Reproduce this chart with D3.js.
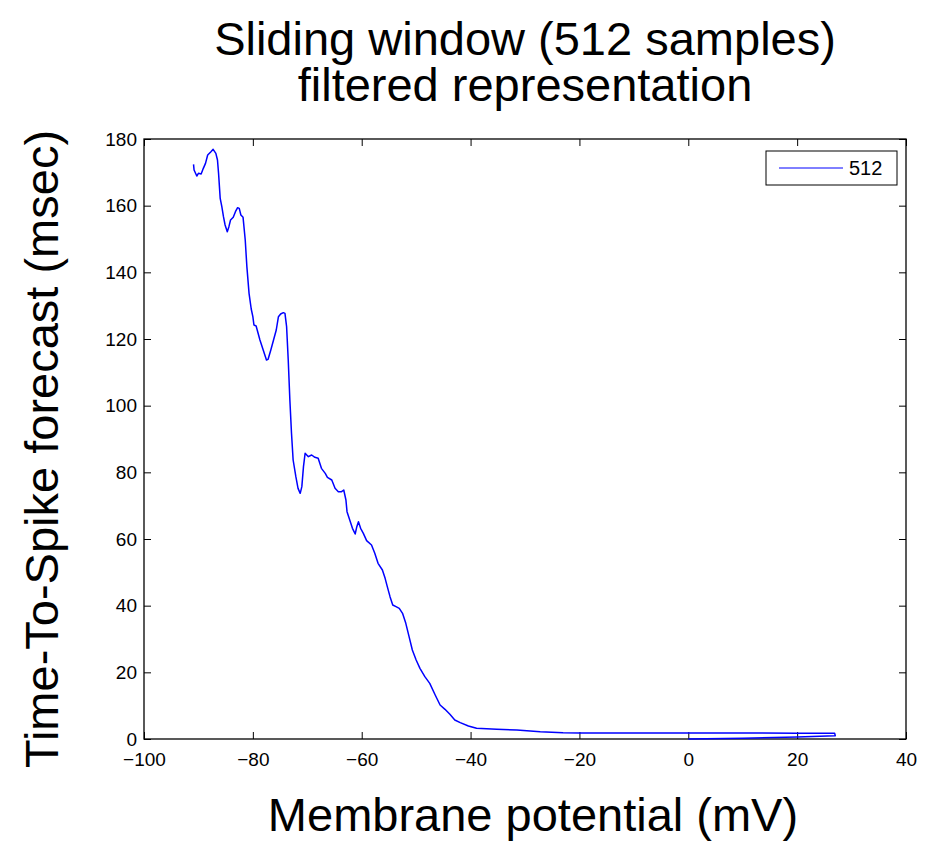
<!DOCTYPE html>
<html>
<head>
<meta charset="utf-8">
<script src="https://cdn.jsdelivr.net/npm/d3@7"></script>
<style>
  html, body { margin: 0; padding: 0; background: #fff; }
  svg { display: block; }
  text { font-family: "Liberation Sans", Arial, Helvetica, sans-serif; fill: #000; }
</style>
</head>
<body>
<svg id="chart" width="935" height="842"></svg>
<script>
// Membrane potential (mV) along the trace
const membranePotential = [
  -90.9, -90.8, -90.3, -90.0, -89.5, -89.1, -88.7, -88.3, -87.7, -87.3,
  -86.8, -86.5, -86.3, -86.0, -85.7, -85.4, -85.1, -84.7, -84.4, -84.1,
  -83.6, -83.2, -82.8, -82.5, -82.2, -81.8, -81.4, -81.1, -80.7, -80.3,
  -80.0, -79.8, -79.4, -79.2, -78.7, -78.1, -77.5, -77.2, -76.7, -76.2,
  -75.7, -75.3, -74.9, -74.4, -74.1, -73.8, -73.5, -73.2, -72.9, -72.6,
  -72.1, -71.7, -71.3, -71.0, -70.7, -70.4, -70.1, -69.8, -69.2, -68.6,
  -68.0, -67.4, -66.7, -66.3, -65.5, -64.9, -64.3, -63.7, -63.3, -62.9,
  -62.7, -62.2, -61.7, -61.2, -60.9, -60.6, -60.2, -59.7, -59.1, -58.2,
  -57.6, -57.0, -56.2, -55.7, -55.3, -54.8, -54.3, -53.7, -53.1, -52.5,
  -51.9, -51.3, -50.7, -50.0, -49.3, -48.4, -47.5, -46.5, -45.6, -44.7,
  -43.8, -42.9, -41.9, -40.4, -38.9, -35.2, -31.5, -27.2, -23.0, -19.9,
  0.0, 20.0, 26.9, 27.0, 20.0, 10.0, 0.0
];

// Time-to-spike forecast (msec) for each point above
const timeToSpike = [
  172.4, 170.7, 168.9, 169.7, 169.5, 171.2, 172.7, 175.2, 176.2, 176.9,
  175.7, 173.7, 169.7, 162.2, 159.7, 156.7, 154.2, 152.2, 153.7, 155.7,
  156.5, 158.2, 159.4, 159.2, 157.2, 156.5, 149.7, 141.7, 133.7, 129.0,
  126.7, 124.2, 123.9, 122.7, 119.7, 116.7, 113.7, 113.9, 116.7, 119.7,
  122.7, 126.7, 127.5, 127.9, 127.7, 123.7, 113.7, 101.7, 91.7, 83.7,
  78.7, 75.2, 73.7, 75.7, 81.7, 85.7, 85.2, 84.7, 85.2, 84.5,
  84.2, 81.2, 79.7, 78.5, 77.7, 75.2, 74.2, 74.2, 74.7, 71.7,
  68.2, 65.7, 63.2, 61.5, 63.7, 65.2, 63.2, 61.7, 59.5, 58.2,
  55.7, 52.7, 50.7, 48.2, 45.7, 42.7, 40.2, 39.7, 39.2, 37.7,
  34.7, 30.7, 26.7, 23.7, 21.2, 18.7, 16.7, 13.2, 10.2, 8.9,
  7.4, 5.7, 4.9, 3.9, 3.2, 2.9, 2.7, 2.2, 1.9, 1.8,
  1.8, 1.75, 1.7, 1.0, 0.6, 0.25, 0.0
];

const xTicks = [-100, -80, -60, -40, -20, 0, 20, 40];
const yTicks = [0, 20, 40, 60, 80, 100, 120, 140, 160, 180];
const titleLines = ["Sliding window (512 samples)", "filtered representation"];
const xLabel = "Membrane potential (mV)";
const yLabel = "Time-To-Spike forecast (msec)";
const seriesName = "512";

const svg = d3.select("#chart");
const margin = { left: 144, top: 139, right: 935 - 906, bottom: 842 - 739 };
const W = 935 - margin.left - margin.right;
const H = 842 - margin.top - margin.bottom;

const x = d3.scaleLinear().domain([-100, 40]).range([0, W]);
const y = d3.scaleLinear().domain([0, 180]).range([H, 0]);

const g = svg.append("g").attr("transform", `translate(${margin.left},${margin.top})`);

const fmt = d => d < 0 ? "\u2212" + Math.abs(d) : String(d);
const tickLen = 7;
const tickFont = "19px";

// bottom and left axes with inward ticks
const xAxis = g.append("g").attr("transform", `translate(0,${H})`)
  .call(d3.axisBottom(x).tickValues(xTicks).tickFormat(fmt).tickSizeInner(-tickLen).tickSizeOuter(0).tickPadding(14));
const yAxis = g.append("g")
  .call(d3.axisLeft(y).tickValues(yTicks).tickFormat(fmt).tickSizeInner(-tickLen).tickSizeOuter(0).tickPadding(7));
// top and right mirror axes
const xTop = g.append("g")
  .call(d3.axisTop(x).tickValues(xTicks).tickFormat("").tickSizeInner(-tickLen).tickSizeOuter(0));
const yRight = g.append("g").attr("transform", `translate(${W},0)`)
  .call(d3.axisRight(y).tickValues(yTicks).tickFormat("").tickSizeInner(-tickLen).tickSizeOuter(0));

[xAxis, yAxis, xTop, yRight].forEach(a => {
  a.select(".domain").remove();
  a.selectAll(".tick line").attr("stroke", "#000").attr("stroke-width", 1);
  a.selectAll("text").style("font-size", tickFont).style("font-family", '"Liberation Sans", Arial, sans-serif').attr("fill", "#000");
});

// frame
g.append("rect").attr("x", 0).attr("y", 0).attr("width", W).attr("height", H)
  .attr("fill", "none").attr("stroke", "#000").attr("stroke-width", 1.3);

// trace
const pts = membranePotential.map((v, i) => [v, timeToSpike[i]]);
const line = d3.line().x(d => x(d[0])).y(d => y(d[1]));
g.append("path").datum(pts).attr("d", line)
  .attr("fill", "none").attr("stroke", "#0000ff").attr("stroke-width", 1.5)
  .attr("stroke-linejoin", "round");

// legend
const lg = svg.append("g").attr("transform", "translate(766,151)");
lg.append("rect").attr("width", 131).attr("height", 34)
  .attr("fill", "#fff").attr("stroke", "#000").attr("stroke-width", 1);
lg.append("line").attr("x1", 13).attr("x2", 77).attr("y1", 17).attr("y2", 17)
  .attr("stroke", "#0000ff").attr("stroke-width", 1);
lg.append("text").attr("x", 83).attr("y", 24).style("font-size", "20px").text(seriesName);

// two-line title
const cx = margin.left + W / 2;
const title = svg.append("text").attr("text-anchor", "middle").style("font-size", "47px");
title.append("tspan").attr("x", cx).attr("y", 55).text(titleLines[0]);
title.append("tspan").attr("x", cx).attr("y", 101).text(titleLines[1]);

svg.append("text").attr("x", cx + 8).attr("y", 831).attr("text-anchor", "middle")
  .style("font-size", "47px").text(xLabel);
svg.append("text").attr("transform", `translate(58,${margin.top + H / 2 + 10}) rotate(-90)`)
  .attr("text-anchor", "middle").style("font-size", "47px").text(yLabel);
</script>
</body>
</html>
